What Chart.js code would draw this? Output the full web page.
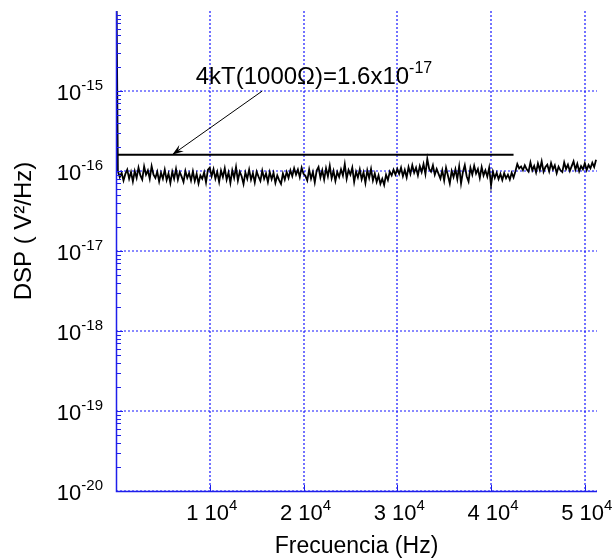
<!DOCTYPE html>
<html>
<head>
<meta charset="utf-8">
<script src="https://cdn.jsdelivr.net/npm/chart.js@4/dist/chart.umd.min.js"></script>
<style>
  html, body { margin: 0; padding: 0; background: #fff; }
  #wrap { width: 613px; height: 558px; }
</style>
</head>
<body>
<div id="wrap"><canvas id="dspChart"></canvas></div>
<script>
/* ============================================================
   DATA
============================================================ */
const FREQ_STEP = 200;          // Hz between spectrum bins
const dcValue = 1e-13;          // DC bin, off the top of the plot
const UNIT = 1e-16;

// DSP, in units of 1e-16 V^2/Hz, bins at 200 Hz ... 51200 Hz
const dspE16 = [
  1.00, 0.84, 0.95, 0.76, 0.92, 1.04, 0.80, 0.97, 0.74, 1.00,
  0.82, 1.10, 0.88, 0.78, 1.14, 0.90, 1.02, 0.80, 1.15, 0.90,
  0.82, 0.98, 0.74, 0.95, 0.80, 1.04, 0.77, 0.93, 0.71, 0.98,
  0.80, 1.06, 0.78, 0.97, 0.85, 0.73, 1.00, 0.82, 0.94, 0.76,
  0.99, 0.75, 0.92, 0.70, 0.88, 0.80, 0.96, 0.72, 1.03, 1.10,
  0.86, 1.05, 0.80, 0.97, 0.73, 1.01, 0.84, 1.08, 0.78, 0.96,
  0.71, 1.02, 0.82, 1.12, 0.76, 0.98, 0.86, 0.69, 0.96, 0.80,
  1.04, 0.78, 0.94, 0.72, 0.98, 0.85, 0.75, 1.01, 0.80, 0.93,
  0.73, 0.97, 0.79, 0.95, 0.71, 0.88, 0.77, 0.69, 0.93, 0.78,
  0.97, 0.82, 1.02, 0.86, 1.08, 0.90, 1.04, 0.84, 1.10, 0.92,
  0.87, 0.76, 1.04, 0.80, 0.97, 0.72, 1.01, 1.12, 0.83, 1.02,
  0.78, 1.08, 0.86, 1.16, 0.81, 1.00, 0.75, 0.97, 0.84, 1.05,
  0.88, 1.22, 0.80, 1.03, 0.90, 1.10, 0.73, 0.98, 0.83, 1.05,
  0.79, 0.96, 0.71, 1.02, 0.82, 1.06, 0.76, 0.93, 0.73, 0.88,
  0.69, 0.80, 0.67, 0.90, 0.77, 0.98, 0.88, 1.04, 0.90, 1.06,
  0.92, 1.10, 0.86, 1.03, 0.83, 1.12, 0.92, 1.18, 0.95, 1.10,
  0.88, 1.15, 0.97, 1.22, 0.92, 1.42, 1.06, 0.98, 1.18, 0.90,
  1.06, 0.92, 0.80, 1.02, 0.76, 1.10, 0.88, 0.70, 1.00, 0.84,
  1.05, 0.79, 1.14, 0.70, 0.97, 1.18, 0.86, 0.74, 1.10, 0.90,
  1.16, 0.93, 1.06, 0.82, 1.12, 0.88, 1.02, 0.85, 1.10, 0.66,
  0.98, 0.82, 0.95, 0.79, 0.92, 0.77, 0.94, 0.81, 0.90, 0.78,
  0.95, 0.83, 0.99, 1.22, 1.08, 1.14, 1.02, 1.18, 1.05, 0.98,
  1.28, 1.02, 1.16, 0.96, 1.24, 1.03, 1.32, 0.98, 1.12, 1.20,
  0.99, 1.26, 1.05, 1.18, 0.94, 1.13, 1.02, 0.97, 1.28, 1.06,
  1.20, 1.00, 1.15, 1.32, 1.04, 1.23, 0.99, 1.15, 1.05, 1.25,
  1.03, 1.19, 1.08, 1.27, 1.12, 1.38
];

// 4kT reference level (1000 ohm)
const thermalLevel = 1.6e-16;
const thermalFreqs = [0, 42400];

// axes
const xMin = 0, xMax = 51300;
const yMin = 1e-20, yMax = 1e-14;
const xTickValues = [10000, 20000, 30000, 40000, 50000];
const xTickLabels = ["1 10", "2 10", "3 10", "4 10", "5 10"];
const xTickSup = "4";
const yTickExps = [-20, -19, -18, -17, -16, -15];
const xTitle = "Frecuencia (Hz)";
const yTitle = "DSP ( V\u00B2/Hz)";

// annotation (data coordinates)
const annotText = "4kT(1000\u03A9)=1.6x10";
const annotSup = "-17";
const annotAt = { x: 8500, y: 1.22e-15 };
const arrowFrom = { x: 15600, y: 1.0e-15 };
const arrowTo = { x: 6000, y: 1.6e-16 };

/* ============================================================
   STYLE / HELPERS
============================================================ */
const FONT = '"Liberation Sans", Arial, Helvetica, sans-serif';
const BLUE = "rgb(30,30,235)";
const GRID_BLUE = "rgb(20,20,255)";

function drawSup(ctx, base, sup, x, y, size, supSize, align) {
  ctx.font = `${size}px ${FONT}`;
  const wb = ctx.measureText(base).width;
  ctx.font = `${supSize}px ${FONT}`;
  const ws = ctx.measureText(sup).width;
  let x0 = x;
  if (align === "right") x0 = x - wb - ws;
  if (align === "center") x0 = x - (wb + ws) / 2;
  ctx.textAlign = "left";
  ctx.textBaseline = "alphabetic";
  ctx.font = `${size}px ${FONT}`;
  ctx.fillText(base, x0, y);
  ctx.font = `${supSize}px ${FONT}`;
  ctx.fillText(sup, x0 + wb, y - size * 0.45);
}

// dotted grid, drawn under the data
const dottedGrid = {
  id: "dottedGrid",
  beforeDatasetsDraw(chart) {
    const { ctx, chartArea: a, scales: { x, y } } = chart;
    ctx.save();
    ctx.strokeStyle = GRID_BLUE;
    ctx.lineWidth = 1.2;
    ctx.setLineDash([2, 2]);
    ctx.beginPath();
    yTickExps.forEach((e) => {
      const py = Math.round(y.getPixelForValue(Math.pow(10, e)));
      ctx.moveTo(a.left, py);
      ctx.lineTo(a.right, py);
    });
    xTickValues.forEach((v) => {
      const px = Math.round(x.getPixelForValue(v));
      ctx.moveTo(px, a.top);
      ctx.lineTo(px, a.bottom);
    });
    ctx.stroke();
    ctx.restore();
  },
};

// axes lines, ticks, labels, titles and the annotation
const axesDecor = {
  id: "axesDecor",
  afterDatasetsDraw(chart) {
    const { ctx, chartArea: a, scales: { x, y } } = chart;
    ctx.save();

    ctx.strokeStyle = BLUE;
    ctx.lineWidth = 1.5;
    ctx.beginPath();
    ctx.moveTo(a.left + 0.5, a.top);
    ctx.lineTo(a.left + 0.5, a.bottom + 0.5);
    ctx.lineTo(a.right, a.bottom + 0.5);
    ctx.stroke();

    ctx.lineWidth = 1;
    ctx.beginPath();
    yTickExps.forEach((e) => {
      for (let k = 1; k <= 9; k++) {
        const py = Math.round(y.getPixelForValue(k * Math.pow(10, e))) + 0.5;
        ctx.moveTo(a.left, py);
        ctx.lineTo(a.left + (k === 1 ? 7 : 5), py);
      }
    });
    xTickValues.forEach((v) => {
      const px = Math.round(x.getPixelForValue(v)) + 0.5;
      ctx.moveTo(px, a.bottom);
      ctx.lineTo(px, a.bottom - 6);
    });
    ctx.stroke();

    // tick labels
    ctx.fillStyle = "#000";
    const tsize = 22, ssize = 15;
    yTickExps.forEach((e) => {
      const py = y.getPixelForValue(Math.pow(10, e));
      drawSup(ctx, "10", String(e), a.left - 13, py + tsize * 0.716 / 2 + 1, tsize, ssize, "right");
    });
    xTickValues.forEach((v, i) => {
      const px = x.getPixelForValue(v);
      drawSup(ctx, xTickLabels[i], xTickSup, px + 2, a.bottom + 29, tsize, ssize, "center");
    });

    // axis titles
    ctx.font = `23px ${FONT}`;
    ctx.textAlign = "center";
    ctx.textBaseline = "alphabetic";
    ctx.fillText(xTitle, (a.left + a.right) / 2, a.bottom + 62);
    ctx.save();
    ctx.font = `24px ${FONT}`;
    ctx.translate(31, (a.top + a.bottom) / 2 - 20);
    ctx.rotate(-Math.PI / 2);
    ctx.fillText(yTitle, 0, 0);
    ctx.restore();

    // annotation + arrow
    drawSup(ctx, annotText, annotSup, x.getPixelForValue(annotAt.x), y.getPixelForValue(annotAt.y), 24, 16, "left");
    const x1 = x.getPixelForValue(arrowFrom.x), y1 = y.getPixelForValue(arrowFrom.y);
    const x2 = x.getPixelForValue(arrowTo.x), y2 = y.getPixelForValue(arrowTo.y);
    ctx.strokeStyle = "#000";
    ctx.lineWidth = 1;
    ctx.beginPath();
    ctx.moveTo(x1, y1);
    ctx.lineTo(x2, y2);
    ctx.stroke();
    const ang = Math.atan2(y2 - y1, x2 - x1);
    const L = 12, W = 0.33;
    ctx.fillStyle = "#000";
    ctx.beginPath();
    ctx.moveTo(x2, y2);
    ctx.lineTo(x2 - L * Math.cos(ang - W), y2 - L * Math.sin(ang - W));
    ctx.lineTo(x2 - L * 0.6 * Math.cos(ang), y2 - L * 0.6 * Math.sin(ang));
    ctx.lineTo(x2 - L * Math.cos(ang + W), y2 - L * Math.sin(ang + W));
    ctx.closePath();
    ctx.fill();

    ctx.restore();
  },
};

/* ============================================================
   CHART
============================================================ */
const spectrum = [{ x: 0, y: dcValue }].concat(
  dspE16.map((v, i) => ({ x: (i + 1) * FREQ_STEP, y: v * UNIT }))
);
const thermal = thermalFreqs.map((f) => ({ x: f, y: thermalLevel }));

new Chart(document.getElementById("dspChart"), {
  type: "line",
  data: {
    datasets: [
      {
        label: "DSP",
        data: spectrum,
        borderColor: "#000",
        borderWidth: 1.8,
        pointRadius: 0,
        tension: 0,
      },
      {
        label: "4kT",
        data: thermal,
        borderColor: "#000",
        borderWidth: 2,
        pointRadius: 0,
      },
    ],
  },
  options: {
    responsive: true,
    maintainAspectRatio: false,
    animation: false,
    events: [],
    layout: { padding: { left: 116, right: 16, top: 11, bottom: 67 } },
    plugins: { legend: { display: false }, tooltip: { enabled: false } },
    scales: {
      x: {
        type: "linear",
        min: xMin,
        max: xMax,
        afterFit: (s) => { s.height = 0; },
        ticks: { display: false },
        grid: { display: false },
        border: { display: false },
      },
      y: {
        type: "logarithmic",
        min: yMin,
        max: yMax,
        afterFit: (s) => { s.width = 0; },
        ticks: { display: false },
        grid: { display: false },
        border: { display: false },
      },
    },
  },
  plugins: [dottedGrid, axesDecor],
});
</script>
</body>
</html>
